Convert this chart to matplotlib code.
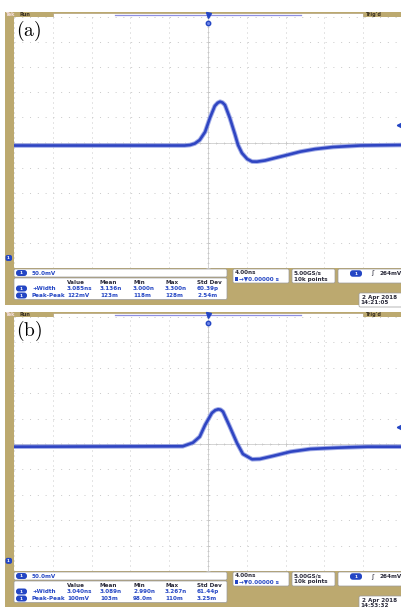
import numpy as np
import matplotlib
matplotlib.use('Agg')
import matplotlib.pyplot as plt
from matplotlib.patches import Rectangle, FancyBboxPatch
from matplotlib.transforms import blended_transform_factory
from matplotlib.ticker import FixedLocator

plt.rcParams['lines.scale_dashes'] = False
plt.rcParams['mathtext.fontset'] = 'cm'

# ---------------- data ----------------
# panel (a) trace: time (ns), voltage (mV)
time_a = [-20.0, -2.4, -1.85, -1.35, -0.85, -0.3, 0.2, 0.7, 1.0, 1.25, 1.5, 1.75, 2.25, 2.8,
          3.1, 3.5, 4.05, 4.55, 5.05, 5.9, 6.9, 7.95, 9.5, 11.05, 12.9, 15.7, 19.9]
volt_a = [224, 224, 225, 228, 235, 251, 279, 302.7, 309, 311.3, 309.5, 304.7, 279, 245,
          225, 209, 197, 192, 191.8, 194.2, 199.1, 204.1, 211.7, 217, 221, 224, 225]
# panel (b) trace
time_b = [-20.0, -2.6, -1.55, -0.85, -0.3, 0.4, 0.75, 1.05, 1.3, 1.55, 2.25, 3.0, 3.6, 4.55,
          5.35, 6.7, 8.5, 10.55, 13.3, 16.45, 19.9]
volt_b = [224.7, 225.5, 232.6, 244.4, 267.4, 291, 296.5, 298.3, 297.5, 293.6, 264.1, 231.4,
          210.3, 199.9, 200.5, 206.4, 214.8, 220.2, 222.7, 224.7, 224.7]

meas_cols = ['Value', 'Mean', 'Min', 'Max', 'Std Dev']
meas_rows = ['+Width', 'Peak-Peak']
meas_a = [['3.085ns', '3.136n', '3.000n', '3.300n', '60.39p'],
          ['122mV', '123m', '118m', '128m', '2.54m']]
meas_b = [['3.040ns', '3.089n', '2.990n', '3.267n', '61.44p'],
          ['100mV', '103m', '98.0m', '110m', '3.25m']]
date_a = ['2 Apr 2018', '14:21:05']
date_b = ['2 Apr 2018', '14:53:32']
ch_scale = '50.0mV'
timebase = '4.00ns'
delay = '0.00000 s'
sample_rate = '5.00GS/s'
record = '10k points'
trig_level = 264      # mV
trig_text = '264mV'
ground_level = 0      # mV

# screen ranges (10 x 10 divisions)
t_min, t_max = -20.0, 19.9
v_min, v_max = -20.0, 480.0

# ---------------- figure ----------------
W, H = 401, 607
fig = plt.figure(figsize=(W / 100, H / 100), dpi=100)
bg = fig.add_axes([0, 0, 1, 1])
bg.set_xlim(0, W)
bg.set_ylim(H, 0)
bg.axis('off')

TAN = '#bca96f'
DARK = '#2a2a3a'
BLUE = '#2446c4'
FS = 4.1
FONT = dict(family='DejaVu Sans', weight='bold', fontsize=FS)


def box(x0, y0, x1, y1):
    bg.add_patch(FancyBboxPatch((x0, y0), x1 - x0, y1 - y0,
                                boxstyle='round,pad=0,rounding_size=1.5',
                                fc='white', ec='#9a9a9a', lw=0.5, zorder=2))


def pill(xc, yc, w=11, h=6):
    bg.add_patch(FancyBboxPatch((xc - w / 2, yc - h / 2), w, h,
                                boxstyle='round,pad=0,rounding_size=2.8',
                                fc=BLUE, ec='none', zorder=3))
    bg.text(xc, yc + 0.2, '1', color='white', ha='center', va='center',
            family='DejaVu Sans', weight='bold', fontsize=3.2, zorder=4)


def panel(top, scr_bot, tan_bot, label, meas, date, time, volt):
    scr_top = top + 5
    # tan frame
    bg.add_patch(Rectangle((5, top), W - 5, tan_bot - top, fc=TAN, ec='none', zorder=1))
    # status bar
    bg.add_patch(Rectangle((53, top + 0.6), 310, 4, fc='white', ec='#a8956a', lw=0.4, zorder=2))
    bg.plot([115, 301], [top + 2.5, top + 2.5], color='#8e8ee0', lw=0.9, zorder=3)
    bg.text(6, top + 2.6, 'Tek', color='#f4dede', va='center', ha='left', zorder=3,
            family='DejaVu Sans', weight='bold', fontsize=3.6)
    bg.text(19, top + 2.6, 'Run', color='#3a3020', va='center', ha='left', zorder=3,
            family='DejaVu Sans', weight='bold', fontsize=3.6)
    bg.text(366, top + 2.6, "Trig'd", color='#3a3020', va='center', ha='left', zorder=3,
            family='DejaVu Sans', weight='bold', fontsize=3.6)

    # screen axes
    ax = fig.add_axes([14 / W, 1 - scr_bot / H, (W - 14) / W, (scr_bot - scr_top) / H])
    ax.set_facecolor('white')
    ax.set_xlim(t_min, t_max)
    ax.set_ylim(v_min, v_max)
    ax.xaxis.set_major_locator(FixedLocator(np.arange(-20, 21, 4)))
    ax.xaxis.set_minor_locator(FixedLocator(np.arange(-20, 20.1, 0.8)))
    ax.yaxis.set_major_locator(FixedLocator(np.arange(-20, 481, 50)))
    ax.yaxis.set_minor_locator(FixedLocator(np.arange(-20, 481, 10)))
    for s in ['top', 'right']:
        ax.spines[s].set_visible(False)
    ax.spines['left'].set_position(('data', 0))
    ax.spines['bottom'].set_position(('data', 230))
    for s in ['left', 'bottom']:
        ax.spines[s].set_color('#c4c4c4')
        ax.spines[s].set_linewidth(0.5)
    ax.tick_params(which='both', direction='inout', color='#c4c4c4', width=0.5,
                   labelbottom=False, labelleft=False)
    ax.tick_params(which='major', length=3.2)
    ax.tick_params(which='minor', length=2.0)
    ax.grid(True, axis='x', which='major', color='#c8c8c8', lw=0.7, linestyle=(0, (0.7, 2.9)))
    ax.grid(True, axis='y', which='major', color='#c8c8c8', lw=0.7, linestyle=(0, (0.7, 4.9)))
    ax.set_axisbelow(True)

    # trace
    ax.plot(time, volt, color='#8c99e2', lw=3.3, alpha=0.8, solid_joinstyle='round',
            solid_capstyle='butt', zorder=3)
    ax.plot(time, volt, color='#2f45c2', lw=1.9, solid_joinstyle='round',
            solid_capstyle='butt', zorder=4)

    # markers
    bl = blended_transform_factory(bg.transData, ax.transData)
    ax.plot([399], [trig_level], marker='<', ms=3.2, color=BLUE, transform=bl,
            clip_on=False, zorder=5)
    yg = bg.transData.inverted().transform(ax.transData.transform((0, ground_level)))[1]
    bg.add_patch(FancyBboxPatch((5.5, yg - 3), 6.5, 6, boxstyle='round,pad=0,rounding_size=2',
                                fc=BLUE, ec='none', zorder=3))
    bg.text(8.5, yg + 0.2, '1', color='white', ha='center', va='center',
            family='DejaVu Sans', weight='bold', fontsize=3.0, zorder=4)
    bt = blended_transform_factory(ax.transData, bg.transData)
    ax.plot([0], [top + 2.6], marker='v', ms=3.6, color=BLUE, transform=bt,
            clip_on=False, zorder=6)
    ax.plot([0], [scr_top + 5.5], marker='o', ms=3.2, color=BLUE, mfc='#6f86e6',
            transform=bt, clip_on=False, zorder=6)

    # label (drawn in the screen axes so it sits above the white screen)
    ax.text(16, scr_top + 1.5, r'$\mathrm{(%s)}$' % label, va='top', ha='left',
            fontsize=14, color='black', zorder=10, transform=bg.transData)

    # ----- info area -----
    b = scr_bot
    box(14, b + 1, 227, b + 9)
    pill(21.5, b + 5)
    bg.text(32, b + 5.2, ch_scale, color=BLUE, va='center', ha='left', zorder=4, **FONT)

    box(14, b + 10, 227, b + 31.5)
    col_x = [67, 100, 133, 165, 197]
    for cx, c in zip(col_x, meas_cols):
        bg.text(cx, b + 14.5, c, color=DARK, va='center', ha='left', zorder=4, **FONT)
    for r, (lab, vals) in enumerate(zip(meas_rows, meas)):
        yy = b + 20.5 + 7 * r
        pill(21.5, yy)
        bg.text(32, yy, lab, color=BLUE, va='center', ha='left', zorder=4, **FONT)
        for cx, v in zip(col_x, vals):
            bg.text(cx, yy, v, color=BLUE, va='center', ha='left', zorder=4, **FONT)

    box(233, b + 1, 289, b + 15)
    bg.text(235, b + 4.8, timebase, color=DARK, va='center', ha='left', zorder=4, **FONT)
    bg.add_patch(Rectangle((235, b + 9.3), 3.2, 3.4, fc=BLUE, ec='none', zorder=4))
    bg.text(238.6, b + 11, '\u2192\u25bc' + delay, color=BLUE, va='center', ha='left',
            zorder=4, **FONT)

    box(292, b + 1, 335, b + 15)
    bg.text(294, b + 4.8, sample_rate, color=DARK, va='center', ha='left', zorder=4, **FONT)
    bg.text(294, b + 11, record, color=DARK, va='center', ha='left', zorder=4, **FONT)

    box(338, b + 1, 405, b + 15)
    pill(356, b + 5.5, w=12, h=6.5)
    bg.text(372, b + 5.5, '\u0283', color=DARK, va='center', ha='center', zorder=4,
            family='DejaVu Sans', fontsize=5)
    bg.text(380, b + 5.5, trig_text, color=DARK, va='center', ha='left', zorder=4, **FONT)

    box(359, b + 25, 405, b + 39)
    bg.text(362, b + 29.3, date[0], color=DARK, va='center', ha='left', zorder=4, **FONT)
    bg.text(360.5, b + 34.6, date[1], color=DARK, va='center', ha='left', zorder=4, **FONT)
    return ax


panel(12, 268, 305, 'a', meas_a, date_a, time_a, volt_a)
panel(312, 571, 610, 'b', meas_b, date_b, time_b, volt_b)

fig.savefig('out.png', dpi=100)
